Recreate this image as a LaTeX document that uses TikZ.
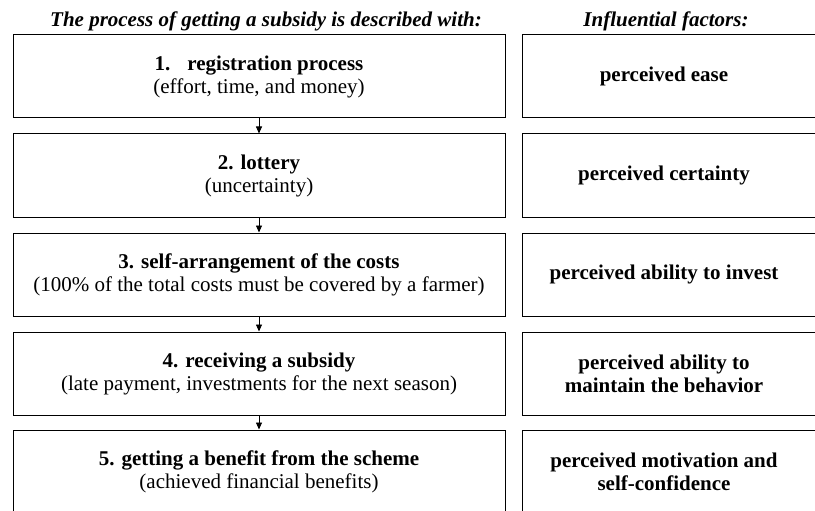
\documentclass[tikz,border=0pt]{standalone}
\usepackage{fontspec}
\setmainfont{Liberation Serif}
\usetikzlibrary{arrows.meta}

\tikzset{
  procbox/.style={draw=black, line width=1pt, minimum width=492pt, minimum height=83pt,
    inner sep=0pt, align=center, font=\fontsize{21}{23}\selectfont},
  factortext/.style={inner sep=0pt, align=center, font=\fontsize{21}{23}\selectfont\bfseries},
  frame/.style={draw=black, line width=1pt},
  heading/.style={inner sep=0pt, anchor=base, font=\fontsize{21}{23}\selectfont\bfseries\itshape},
  flow/.style={line width=0.8pt, -{Triangle[length=7pt,width=6pt]}}
}

\begin{document}
\begin{tikzpicture}[x=1pt, y=-1pt]
  \clip (0,0) rectangle (815,511);

  % column headings
  \node[heading] (h1) at (266,27) {The process of getting a subsidy is described with:};
  \node[heading] (h2) at (666,27) {Influential factors:};

  % process steps
  \node[procbox] (p1) at (259,76.5) {\textbf{1.\hspace{17pt}registration process}\\(effort, time, and money)};
  \node[procbox] (p2) at (259,175.5) {\textbf{2. lottery}\\(uncertainty)};
  \node[procbox] (p3) at (259,274.5) {\textbf{3. self-arrangement of the costs}\\(100\% of the total costs must be covered by a farmer)};
  \node[procbox] (p4) at (259,373.5) {\textbf{4. receiving a subsidy}\\(late payment, investments for the next season)};
  \node[procbox] (p5) at (259,471.5) {\textbf{5. getting a benefit from the scheme}\\(achieved financial benefits)};

  % influential factors
  \node[factortext] (f1) at (664,76.5) {perceived ease};
  \node[factortext] (f2) at (664,175.5) {perceived certainty};
  \node[factortext] (f3) at (664,274.5) {perceived ability to invest};
  \node[factortext] (f4) at (664,373.5) {perceived ability to\\maintain the behavior};
  \node[factortext] (f5) at (664,471.5) {perceived motivation and\\self-confidence};

  % frames of the factor column (open to the right)
  \foreach \t in {35,134,233,332,430} {
    \draw[frame] (522,\t) rectangle (830,\t+83);
  }

  % flow between the steps
  \draw[flow] (p1.south) -- (p2.north);
  \draw[flow] (p2.south) -- (p3.north);
  \draw[flow] (p3.south) -- (p4.north);
  \draw[flow] (p4.south) -- (p5.north);
\end{tikzpicture}
\end{document}
